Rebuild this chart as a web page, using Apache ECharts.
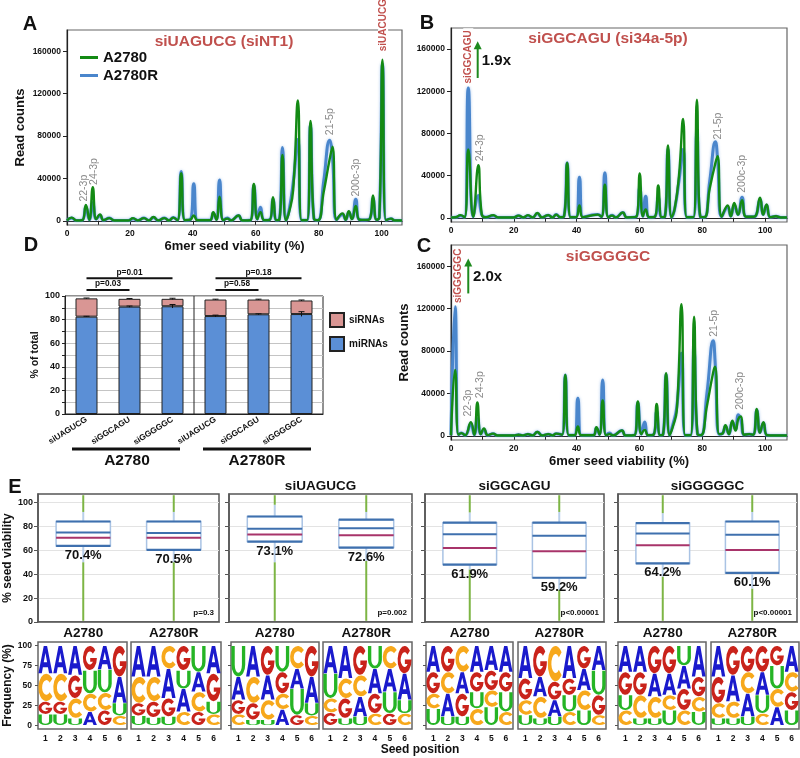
<!DOCTYPE html>
<html><head><meta charset="utf-8"><title>chart</title>
<script src="https://cdn.jsdelivr.net/npm/echarts@6.0.0/dist/echarts.min.js"></script>
<style>html,body{margin:0;padding:0;background:#fff;}#c{width:800px;height:758px;}</style>
</head><body><div id="c"></div>
<script>
const F = '"Liberation Sans", Arial, sans-serif';

// ---------- Panel A (siUAGUCG) read counts ----------
const xA = [0,1.5,3,4.8,6,7.1,8.2,9.3,10.5,11.6,13.5,15,19.5,21,22.5,24.5,26,27.5,29,31,32.4,33.8,35.1,36.3,37.5,39.2,40.3,41.5,45.4,46.5,47.5,48.5,49.7,51,52.2,54.5,55.8,58.3,59.4,60.5,61.5,62.7,64.4,65.5,66.6,67.5,68.5,69.6,70.6,71.9,73.4,74.6,76.3,77.4,78.5,79.8,81.6,83.5,84.4,85.7,87.6,88.6,89.6,90.6,91.8,93,95,96.3,97.3,98.4,99.3,100.3,101.4,103,104.2,106.5];
const readsA_A2780 = [300,3000,300,500,15000,1000,31600,1500,6000,500,2500,300,300,2500,300,2500,300,3500,300,2500,300,3000,300,44800,500,1000,5000,500,500,8000,1000,22800,500,2000,300,5000,300,500,34700,1500,8000,500,800,22200,500,1000,62000,500,8000,29000,113600,500,500,94200,2000,500,27000,58000,69800,1000,7000,1000,9000,1500,14000,1000,800,2000,23800,1000,3000,152000,500,2000,300,300];
const readsA_A2780R = [300,2500,300,500,13000,1000,17000,1500,5000,500,2500,300,300,2000,300,2500,300,3000,300,2500,300,3000,300,46500,500,1000,35000,500,500,7000,1000,38500,500,2500,300,5000,300,500,33000,1500,12800,500,800,20000,500,1000,69200,500,10000,35700,76700,500,500,90000,2000,500,37000,76000,60000,1000,6000,1000,8000,2000,20300,1000,800,2000,21000,1000,3000,148000,500,2000,300,300];

// ---------- Panel B (siGGCAGU) ----------
const xB = [0,1.5,3,4.3,5.5,7.1,8.7,9.8,11,13.5,15,20,21.5,23,24.5,26,27.5,29,31,32.3,33.5,34.8,36,37,38.1,39.8,40.9,42,46.7,47.9,49,50.1,51.3,52.5,54.7,56,59,60.1,61.1,62,63.1,64.9,66,67.1,68.1,69.1,70.2,71.2,72.6,73.9,75.1,77.2,78.3,79.4,80.7,82.4,84.2,84.9,86.2,88.1,89.1,90.2,91.4,92.7,94,96.5,98.4,99.4,100.5,101.7,103.5,105,107];
const readsB_A2780 = [300,500,2500,500,64700,1000,49900,3000,500,2500,300,300,2000,300,2500,300,4500,300,2500,300,3000,500,1500,52100,500,500,11700,500,3000,1000,31300,500,2000,300,5000,300,1000,42000,1500,8000,500,1000,30600,500,1000,68500,500,8000,40000,93800,500,500,112100,1000,500,28000,52000,58400,1000,11700,1500,14000,3000,16700,1000,1000,19000,3000,12700,500,1500,300,300];
const readsB_A2780R = [300,500,2000,500,123200,1000,21100,3000,500,2000,300,300,2000,300,2000,300,4000,300,2500,300,3000,500,1500,52100,500,500,38500,500,3000,1000,42600,500,2500,300,5000,300,1000,28500,1500,20500,500,1000,19000,500,1000,65000,500,8000,35000,64700,500,500,80000,1000,500,35000,72000,55000,1000,10000,1500,12000,3000,19500,1000,1000,17000,3000,12000,500,1500,300,300];

// ---------- Panel C (siGGGGGC) ----------
const xC = [0,1.3,2.4,3.3,4.5,6.3,7.4,8.4,9.5,10.5,11.7,13.4,14.8,20,21.5,23,24.5,26,27.5,29,31,32.3,33.5,35.4,36.4,37.5,39.3,40.4,41.5,45.3,46.3,47.3,48.3,49.4,50.5,51.6,54.4,55.6,58.4,59.5,60.6,61.7,62.8,64.5,65.5,66.6,67.5,68.5,69.6,70.6,71.9,73.4,74.6,76.3,77.4,78.5,79.6,81.5,83.5,84.1,85.4,86.4,87.4,88.5,89.6,90.6,91.5,92.3,93.4,95,96.2,97.4,98.4,99.5,100.7,103,107];
const readsC_A2780 = [500,62100,1000,2500,500,12900,1000,31400,1500,7000,500,2000,300,300,1000,300,1500,300,3500,300,1500,300,2000,1000,57400,500,500,8800,500,500,8000,1000,33300,500,1500,300,5000,300,500,32300,1500,5600,500,1000,30100,500,1000,59000,500,8000,24000,124200,500,500,112300,1500,500,28000,60000,65200,1500,2000,10000,1500,14100,5000,16000,18200,1000,1500,1000,25400,3000,12900,500,300,300];
const readsC_A2780R = [500,121700,1000,2500,500,11000,1000,16000,1500,6000,500,2000,300,300,1000,300,1500,300,3500,300,1500,300,2000,1000,57400,500,500,35400,500,500,7000,1000,52700,500,2500,300,5000,300,500,31000,1500,12900,500,1000,23000,500,1000,58000,500,10000,27000,77800,500,500,81000,1500,500,40000,89700,70000,1500,2000,9000,1500,13000,6000,19800,15000,1000,1500,1000,24000,3000,12000,500,300,300];

const yReadTicks = [0,40000,80000,120000,160000];
const xViabTicks = [0,20,40,60,80,100];
const xViabMinor = [0,10,20,30,40,50,60,70,80,90,100];

// miRNA labels [x, y, text]
const notesA = [[5.5,18100,'22-3p'],[8.7,33800,'24-3p'],[83.5,80800,'21-5p'],[92,22800,'200c-3p']];
const notesB = [[9.3,53600,'24-3p'],[85.2,74200,'21-5p'],[92.6,23700,'200c-3p']];
const notesC = [[5.5,18200,'22-3p'],[9.3,35500,'24-3p'],[83.8,93400,'21-5p'],[92.1,24500,'200c-3p']];
const siNotes = [[0,100.5,158000,'siUACUCG'],[1,5.5,125400,'siGGCAGU'],[2,2.3,123300,'siGGGGGC']];
const folds = [[1,8.5,132600,167400,'1.9x',9.8,149100],[2,5.5,134300,167200,'2.0x',7.0,150000]];

// ---------- Panel D ----------
const dCats = ['siUAGUCG','siGGCAGU','siGGGGGC','siUAGUCG','siGGCAGU','siGGGGGC'];
const dMi = [82.5,91,91.3,83,84.5,84.7];
const dSi = [15.5,6.6,6.3,14,12.5,11.5];
const dMiErr = [0.3,0.5,1.5,0.8,0.4,2.0];
const dTotErr = [0.3,0.3,0.5,0.3,0.3,0.4];
const dBrackets = [[0,2,115,'p=0.01'],[0,1,105,'p=0.03'],[3,5,115,'p=0.18'],[3,4,105,'p=0.58']];

// ---------- Panel E boxplots ----------
const boxTitles = ['','siUAGUCG','siGGCAGU','siGGGGGC'];
const boxCats = ['A2780','A2780R'];
const boxMin = [[1,1],[1,1],[1,1],[1,1]];
const boxWhiskLo = [[50,50],[50,51],[44,27],[38,28]];
const boxQ1 = [[63.6,60.3],[67.2,62.2],[48,37],[49,41]];
const boxMean = [[74.8,74.5],[77.9,78.4],[73.4,72],[74,72.9]];
const boxMedian = [[70.4,70.5],[73.1,72.6],[61.9,59.2],[64.2,60.1]];
const boxQ3 = [[84,84],[88.2,85.5],[83,83],[82.7,84]];
const boxWhiskHi = [[92,92],[98,92],[91.6,92],[91,92]];
const boxMax = [[106,106],[106,106],[106,106],[106,106]];
const boxP = ['p=0.3','p=0.002','p<0.00001','p<0.00001'];
const seedTicks = [0,20,40,60,80,100];

// ---------- Panel E logos (top to bottom, % frequency) ----------
const logoPositions = ['1','2','3','4','5','6'];
const freqTicks = [0,25,50,75,100];
const logoA2780_ctrl  = ['A35 C35 G16 U14','A35 C35 G16 U14','A37 G29 C25 U9','G31 U29 C23 A17','A30 U29 C22 G19','G39 A33 U16 C12'];
const logoA2780R_ctrl = ['A39 C33 G16 U12','A39 C31 G20 U10','C29 A37 G23 U11','G31 U23 A29 C17','U33 A25 C25 G17','A35 G35 U16 C14'];
const logoA2780_NT1   = ['U39 A29 G18 C14','A39 C33 G21 U7','G37 A31 C25 U7','U33 G27 C20 A20','C29 A25 U33 G13','G39 A33 U16 C12'];
const logoA2780R_NT1  = ['A35 U31 C18 G16','A41 C25 G25 U9','G37 C27 A25 U11','U29 A31 G25 C15','C29 A29 U27 G15','G35 A33 U17 C15'];
const logoA2780_34a   = ['A33 G27 C19 U21','G33 C27 A29 U11','C33 A27 G29 U11','A33 G25 U21 C21','A31 G25 C21 U23','A33 G25 U25 C17'];
const logoA2780R_34a  = ['A41 G27 C19 U13','G39 A25 C27 U9','C45 G23 A21 U11','A41 G21 U21 C17','G29 A27 C25 U19','A31 U31 G25 C13'];
const logoA2780_G     = ['A33 G29 U19 C19','A33 G29 C29 U9','G35 A29 C27 U9','G35 A27 C19 U19','U25 A29 G27 C19','A39 G25 C19 U17'];
const logoA2780R_G    = ['A39 G33 C19 U9','G37 A33 C21 U9','G33 C27 A29 U11','G33 A29 U23 C15','G25 U29 C23 A23','A33 C25 G23 U19'];
const logoPanels = [logoA2780_ctrl, logoA2780R_ctrl, logoA2780_NT1, logoA2780R_NT1, logoA2780_34a, logoA2780R_34a, logoA2780_G, logoA2780R_G];

// ---------- styles ----------
const LETTERS = ['A','C','G','U'];
const LETTER_COLORS = {A:'#1a1acc', C:'#f7a81b', G:'#c9231b', U:'#25b425'};
const LETTER_PATHS = {
  A: 'M0,100 L38,0 L62,0 L100,100 L76,100 L68,78 L32,78 L24,100 Z M38,60 L62,60 L50,26 Z',
  C: 'M88.3,17.9 A50,50 0 1,0 88.3,82.1 L70.7,67.4 A27,27 0 1,1 70.7,32.6 Z',
  G: 'M88.3,17.9 A50,50 0 1,0 100,50 L52,50 L52,66 L71.8,66 A27,27 0 1,1 70.7,32.6 Z',
  U: 'M0,0 L24,0 L24,62 A26,26 0 0,0 76,62 L76,0 L100,0 L100,62 A50,38 0 0,1 0,62 Z'
};
const GREEN = '#138a14', BLUE = '#4a86cc';

const chart = echarts.init(document.getElementById('c'));
const zip = (xs, ys) => xs.map((x, i) => [x, ys[i]]);
const bold = (size, color) => ({fontFamily: F, fontWeight: 'bold', fontSize: size, color: color || '#111'});
const grid = [], xAxis = [], yAxis = [], series = [];

// ----- line panels A, B, C -----
const lineCfg = [
  {x: xA, g: readsA_A2780, b: readsA_A2780R, rect: {left: 67, top: 30, width: 335, height: 195}, max: 106.5, xName: true, yName: true},
  {x: xB, g: readsB_A2780, b: readsB_A2780R, rect: {left: 451, top: 28, width: 336, height: 194}, max: 107, xName: false, yName: false},
  {x: xC, g: readsC_A2780, b: readsC_A2780R, rect: {left: 451, top: 245, width: 336, height: 195}, max: 107, xName: true, yName: true}
];
lineCfg.forEach((p, i) => {
  grid.push(Object.assign({show: true, borderColor: '#666', borderWidth: 1.2}, p.rect));
  xAxis.push({gridIndex: i, type: 'value', min: 0, max: p.max,
    name: p.xName ? '6mer seed viability (%)' : '', nameLocation: 'middle', nameGap: 15, nameTextStyle: bold(13),
    axisLine: {lineStyle: {color: '#222', width: 1.2}},
    axisTick: {show: true, length: 4, customValues: xViabMinor, lineStyle: {color: '#222'}},
    axisLabel: Object.assign({margin: 4, customValues: xViabTicks, formatter: v => String(v)}, bold(8.5)), splitLine: {show: false}});
  yAxis.push({gridIndex: i, type: 'value', min: -4000, max: 180000,
    name: p.yName ? 'Read counts' : '', nameLocation: 'middle', nameGap: 40, nameTextStyle: bold(13),
    axisLine: {show: true, lineStyle: {color: '#222', width: 1.2}},
    axisTick: {show: true, length: 4, customValues: yReadTicks, lineStyle: {color: '#222'}},
    axisLabel: Object.assign({margin: 6, customValues: yReadTicks, formatter: v => String(v)}, bold(8.5)), splitLine: {show: false}});
  series.push({type: 'line', name: 'A2780R', xAxisIndex: i, yAxisIndex: i, data: zip(p.x, p.b), smooth: 0.5,
    symbol: 'none', color: BLUE, itemStyle: {color: BLUE},
    lineStyle: {width: 3, color: BLUE, shadowColor: 'rgba(110,160,225,0.6)', shadowBlur: 3}, z: 2});
  series.push({type: 'line', name: 'A2780', xAxisIndex: i, yAxisIndex: i, data: zip(p.x, p.g), smooth: 0.5,
    symbol: 'none', color: GREEN, itemStyle: {color: GREEN}, lineStyle: {width: 2.4, color: GREEN}, z: 3});
});

// ----- panel D -----
grid.push({left: 65, top: 296, width: 258, height: 118, show: true, borderColor: '#222', borderWidth: 1});
xAxis.push({gridIndex: 3, type: 'category', data: dCats.map((_, i) => String(i)), axisTick: {show: false},
  axisLine: {lineStyle: {color: '#222'}},
  axisLabel: Object.assign({interval: 0, rotate: 32, margin: 5, formatter: (v, i) => dCats[i]}, bold(8.3))});
yAxis.push({gridIndex: 3, type: 'value', min: 0, max: 100, interval: 20, name: '% of total', nameLocation: 'middle',
  nameGap: 22, nameTextStyle: bold(10.5), axisLine: {show: true, lineStyle: {color: '#222'}},
  axisTick: {show: true, length: 3, lineStyle: {color: '#222'}},
  minorTick: {show: true, splitNumber: 2, length: 3, lineStyle: {color: '#222'}},
  splitLine: {show: true, lineStyle: {color: '#c4c4c4'}}, minorSplitLine: {show: true, lineStyle: {color: '#c4c4c4'}},
  axisLabel: Object.assign({margin: 5}, bold(9))});
series.push({type: 'bar', name: 'miRNAs', xAxisIndex: 3, yAxisIndex: 3, stack: 'd', data: dMi, barWidth: 22,
  color: '#5b8fd6', itemStyle: {color: '#5b8fd6', borderColor: '#222', borderWidth: 1}});
series.push({type: 'bar', name: 'siRNAs', xAxisIndex: 3, yAxisIndex: 3, stack: 'd', data: dSi, barWidth: 22,
  color: '#d99694', itemStyle: {color: '#d99694', borderColor: '#222', borderWidth: 1}});
function renderErr(params, api) {
  const c = api.value(0), v = api.value(1), e = api.value(2);
  const t = api.coord([c, v + e]), b = api.coord([c, v - e]);
  return {type: 'group', children: [
    {type: 'line', shape: {x1: t[0], y1: t[1], x2: b[0], y2: b[1]}, style: {stroke: '#111', lineWidth: 1}},
    {type: 'line', shape: {x1: t[0] - 3, y1: t[1], x2: t[0] + 3, y2: t[1]}, style: {stroke: '#111', lineWidth: 1}}]};
}
series.push({type: 'custom', xAxisIndex: 3, yAxisIndex: 3, renderItem: renderErr, z: 5, silent: true,
  data: dCats.map((_, i) => [i, dMi[i], dMiErr[i]]).concat(dCats.map((_, i) => [i, dMi[i] + dSi[i], dTotErr[i]]))});

// ----- panel E boxplots -----
const boxRects = [[38, 181], [229, 183], [425, 179], [618, 179]];
function renderBox(params, api) {
  const c = api.value(0);
  const cx = api.coord([c, 0])[0];
  const hw = api.size([1, 0])[0] * 0.3;
  const Y = v => api.coord([c, v])[1];
  const v = i => api.value(i);
  const mn = v(1), lw = v(2), q1 = v(3), mean = v(4), med = v(5), q3 = v(6), hi = v(7), mx = v(8);
  const seg = (a, b, col) => ({type: 'line', shape: {x1: cx, y1: Y(a), x2: cx, y2: Y(b)}, style: {stroke: col, lineWidth: 2}});
  const hl = (val, col, w) => ({type: 'line', shape: {x1: cx - hw, y1: Y(val), x2: cx + hw, y2: Y(val)}, style: {stroke: col, lineWidth: w}});
  return {type: 'group', children: [
    seg(mn, lw, '#7db544'), seg(lw, q1, '#b9cfea'), seg(q3, hi, '#b9cfea'), seg(hi, mx, '#7db544'),
    {type: 'rect', shape: {x: cx - hw, y: Y(q3), width: 2 * hw, height: Y(q1) - Y(q3)}, style: {fill: '#fff', stroke: '#a9c3e4', lineWidth: 1.5}},
    hl(q3, '#3f70ae', 2.2), hl(q1, '#3f70ae', 2.2), hl(mean, '#3f70ae', 2), hl(med, '#a8346a', 2),
    {type: 'text', x: cx, y: Y(q1) + 3, style: {text: med.toFixed(1) + '%', font: 'bold 13px ' + F, fill: '#111',
      align: 'center', textAlign: 'center', verticalAlign: 'top', textVerticalAlign: 'top'}}
  ]};
}
boxRects.forEach(([l, w], k) => {
  const gi = 4 + k;
  grid.push({left: l, top: 494, width: w, height: 128, show: true, borderColor: '#555', borderWidth: 1.5});
  xAxis.push({gridIndex: gi, type: 'category', data: boxCats, axisTick: {show: false},
    axisLine: {lineStyle: {color: '#555', width: 1.5}}, axisLabel: Object.assign({margin: 4}, bold(13.5))});
  yAxis.push({gridIndex: gi, type: 'value', min: 0, max: 107,
    name: k === 0 ? '% seed viability' : '', nameLocation: 'middle', nameGap: 22, nameTextStyle: bold(12),
    axisLine: {show: true, lineStyle: {color: '#555', width: 1.5}},
    axisTick: {show: true, length: 4, customValues: seedTicks, lineStyle: {color: '#555'}},
    axisLabel: Object.assign({show: k === 0, margin: 5, customValues: seedTicks}, bold(9)),
    splitLine: {show: true, lineStyle: {color: '#e3e3e3'}}});
  series.push({type: 'custom', xAxisIndex: gi, yAxisIndex: gi, renderItem: renderBox, silent: true, clip: false,
    encode: {x: 0, y: [1, 8]},
    data: [0, 1].map(j => [j, boxMin[k][j], boxWhiskLo[k][j], boxQ1[k][j], boxMean[k][j], boxMedian[k][j], boxQ3[k][j], boxWhiskHi[k][j], boxMax[k][j]])});
});

// ----- panel E logos -----
const logoRects = [[38, 89], [131, 90], [231, 88], [323, 89], [426, 87], [518, 88], [618, 88], [711, 88]];
function parseLogo(cols) {
  const out = [];
  cols.forEach((s, pos) => {
    const items = s.trim().split(/\s+/).map(t => [t[0], parseFloat(t.slice(1))]);
    let acc = 0;
    for (let j = items.length - 1; j >= 0; j--) {
      out.push([pos, acc, acc + items[j][1], LETTERS.indexOf(items[j][0])]);
      acc += items[j][1];
    }
  });
  return out;
}
function renderLetter(params, api) {
  const c = api.value(0), lo = api.value(1), hi = api.value(2), L = LETTERS[api.value(3)];
  const pt = api.coord([c, hi]), pb = api.coord([c, lo]);
  const w = api.size([1, 0])[0] * 0.94;
  return {type: 'path', shape: {pathData: LETTER_PATHS[L], x: pt[0] - w / 2, y: pt[1] + 0.3, width: w, height: Math.max(1, pb[1] - pt[1] - 0.6), layout: 'cover'},
    style: {fill: LETTER_COLORS[L]}};
}
logoRects.forEach(([l, w], k) => {
  const gi = 8 + k;
  grid.push({left: l, top: 642, width: w, height: 87, show: true, borderColor: '#666', borderWidth: 1.5});
  xAxis.push({gridIndex: gi, type: 'category', data: logoPositions, axisTick: {show: false}, axisLine: {show: false},
    axisLabel: Object.assign({margin: 5}, bold(8.5))});
  yAxis.push({gridIndex: gi, type: 'value', min: -4.6, max: 104.6,
    name: k === 0 ? 'Frequency (%)' : '', nameLocation: 'middle', nameGap: 22, nameTextStyle: bold(12),
    axisLine: {show: false},
    axisTick: {show: k % 2 === 0, length: 3, customValues: freqTicks, lineStyle: {color: '#555'}},
    axisLabel: Object.assign({show: k === 0, margin: 6, customValues: freqTicks}, bold(8.5)), splitLine: {show: false}});
  series.push({type: 'custom', xAxisIndex: gi, yAxisIndex: gi, renderItem: renderLetter, silent: true,
    encode: {x: 0, y: [1, 2]}, data: parseLogo(logoPanels[k])});
});

const option = {
  animation: false,
  backgroundColor: '#fff',
  grid, xAxis, yAxis, series,
  legend: [
    {data: ['A2780', 'A2780R'], left: 80, top: 50, orient: 'vertical', icon: 'rect', itemWidth: 18, itemHeight: 3,
      itemGap: 3, padding: 0, selectedMode: false, textStyle: bold(15)},
    {data: ['siRNAs', 'miRNAs'], left: 329, top: 312, orient: 'vertical', icon: 'rect', itemWidth: 14, itemHeight: 14,
      itemGap: 8, padding: 0, selectedMode: false, textStyle: bold(10)}
  ]
};
chart.setOption(option);

// ----- annotations -----
const px = (g, v) => chart.convertToPixel({gridIndex: g}, v);
const T = (x, y, text, font, fill, align, va, extra) => Object.assign({type: 'text', x, y, z: 100,
  style: {text, font, fill: fill || '#111', align: align || 'center', textAlign: align || 'center',
    verticalAlign: va || 'middle', textVerticalAlign: va || 'middle'}}, extra || {});
const G = [];
[['A', 30, 24], ['B', 427, 23], ['C', 424, 246], ['D', 31, 245], ['E', 15, 487]].forEach(([t, x, y]) => G.push(T(x, y, t, 'bold 20px ' + F)));
G.push(T(224, 42, 'siUAGUCG (siNT1)', 'bold 15.5px ' + F, '#c0504d'));
G.push(T(608, 39, 'siGGCAGU (si34a-5p)', 'bold 15.5px ' + F, '#c0504d'));
G.push(T(608, 257, 'siGGGGGC', 'bold 15.5px ' + F, '#c0504d'));
[[0, notesA], [1, notesB], [2, notesC]].forEach(([g, arr]) => arr.forEach(([x, y, t]) => {
  const p = px(g, [x, y]);
  G.push(T(p[0], p[1], t, '10.5px ' + F, '#8a8a8a', 'left', 'middle', {rotation: Math.PI / 2}));
}));
siNotes.forEach(([g, x, y, t]) => {
  const p = px(g, [x, y]);
  const e = T(p[0], p[1], t, 'bold 10px ' + F, '#c0504d', 'left', 'middle', {rotation: Math.PI / 2});
  e.style.backgroundColor = '#fff'; e.style.padding = [0, 2];
  G.push(e);
});
folds.forEach(([g, x, y0, y1, t, lx, ly]) => {
  const a = px(g, [x, y0]), b = px(g, [x, y1]), l = px(g, [lx, ly]);
  G.push({type: 'line', z: 100, shape: {x1: a[0], y1: a[1], x2: b[0], y2: b[1] + 6}, style: {stroke: '#1e8a1e', lineWidth: 2}});
  G.push({type: 'polygon', z: 100, shape: {points: [[b[0] - 4, b[1] + 8], [b[0] + 4, b[1] + 8], [b[0], b[1]]]}, style: {fill: '#1e8a1e'}});
  G.push(T(l[0], l[1], t, 'bold 15px ' + F, '#111', 'left', 'middle'));
});
dBrackets.forEach(([c0, c1, v, t]) => {
  const a = px(3, [c0, v]), b = px(3, [c1, v]);
  G.push({type: 'line', z: 100, shape: {x1: a[0], y1: a[1], x2: b[0], y2: b[1]}, style: {stroke: '#111', lineWidth: 2}});
  G.push(T((a[0] + b[0]) / 2, a[1] - 2, t, 'bold 8.3px ' + F, '#111', 'center', 'bottom'));
});
{
  const a = px(3, [2, 0]), b = px(3, [3, 0]);
  const xm = (a[0] + b[0]) / 2;
  G.push({type: 'line', z: 100, shape: {x1: xm, y1: 296, x2: xm, y2: 414}, style: {stroke: '#222', lineWidth: 1}});
}
G.push({type: 'line', z: 100, shape: {x1: 72, y1: 449, x2: 180, y2: 449}, style: {stroke: '#111', lineWidth: 3}});
G.push({type: 'line', z: 100, shape: {x1: 203, y1: 449, x2: 311, y2: 449}, style: {stroke: '#111', lineWidth: 3}});
G.push(T(127, 461, 'A2780', 'bold 15.5px ' + F));
G.push(T(257, 461, 'A2780R', 'bold 15.5px ' + F));
boxRects.forEach(([l, w], k) => {
  if (boxTitles[k]) G.push(T(l + w / 2, 486, boxTitles[k], 'bold 13.5px ' + F));
  G.push(T(l + w - 5, 494 + 128 - 5, boxP[k], 'bold 8px ' + F, '#111', 'right', 'bottom'));
});
G.push(T(420, 750, 'Seed position', 'bold 12px ' + F));
chart.setOption({graphic: {elements: G}});
</script></body></html>
